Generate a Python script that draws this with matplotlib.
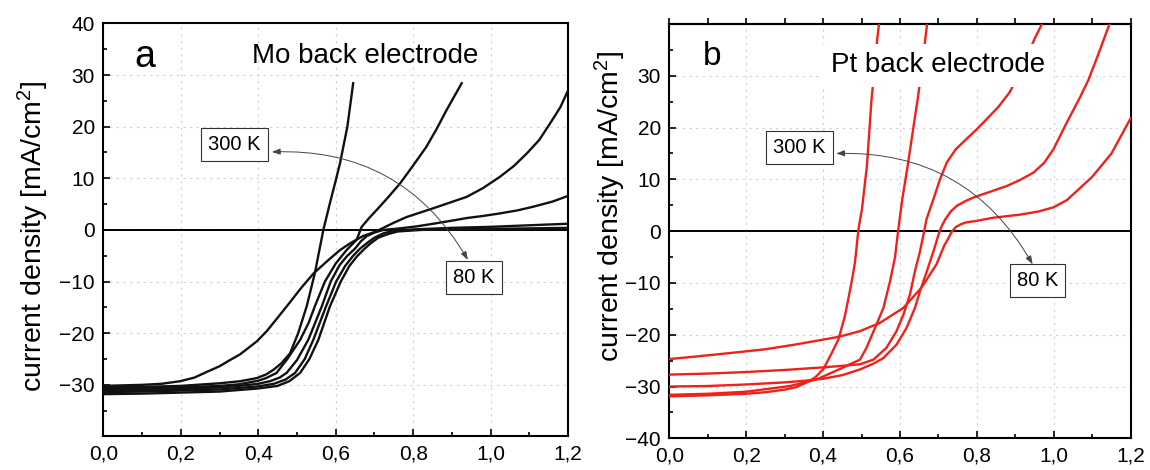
import numpy as np
import matplotlib.pyplot as plt
from matplotlib.ticker import MultipleLocator, NullFormatter

plt.rcParams['font.family'] = ['Liberation Sans', 'DejaVu Sans']
plt.rcParams['mathtext.default'] = 'regular'

# J-V curves with Mo back electrode (V, mA/cm2)
mo_v1 = [0.0, 0.10, 0.20, 0.30, 0.353, 0.396, 0.420, 0.439, 0.460, 0.482, 0.503, 0.525, 0.546, 0.568, 0.585,
         0.598, 0.611, 0.630, 0.645]
mo_j1 = [-30.5, -30.4, -30.2, -29.7, -29.3, -28.7, -28.0, -27.1, -25.8, -23.9, -20.0, -14.8, -8.4, 0.0, 5.2,
         9.0, 12.9, 20.0, 28.4]

mo_v2 = [0.0, 0.10, 0.20, 0.30, 0.35, 0.40, 0.42, 0.447, 0.475, 0.508, 0.530, 0.546, 0.572, 0.600, 0.628,
         0.654, 0.667, 0.685, 0.706, 0.735, 0.766, 0.800, 0.834, 0.860, 0.886, 0.925]
mo_j2 = [-30.8, -30.7, -30.5, -30.2, -29.9, -29.2, -28.7, -27.7, -25.0, -21.3, -18.0, -14.8, -10.0, -6.5, -3.9,
         -1.9, 0.6, 2.2, 3.9, 6.3, 9.0, 12.5, 16.1, 19.5, 23.2, 28.4]

mo_v3 = [0.0, 0.10, 0.15, 0.198, 0.235, 0.267, 0.300, 0.327, 0.353, 0.396, 0.422, 0.450, 0.482, 0.510, 0.543,
         0.580, 0.611, 0.637, 0.670, 0.700, 0.720, 0.750, 0.783, 0.852, 0.938, 0.980, 1.024, 1.060, 1.093,
         1.125, 1.153, 1.180, 1.200]
mo_j3 = [-30.2, -30.0, -29.8, -29.3, -28.6, -27.5, -26.4, -25.2, -24.1, -21.6, -19.6, -17.0, -14.0, -11.3, -8.4,
         -5.9, -3.9, -2.6, -1.2, -0.4, 0.3, 1.4, 2.5, 4.2, 6.4, 8.1, 10.3, 12.4, 14.8,
         17.4, 20.6, 23.8, 27.1]

mo_v4 = [0.0, 0.10, 0.20, 0.30, 0.35, 0.40, 0.43, 0.455, 0.473, 0.50, 0.529, 0.564, 0.587, 0.610, 0.630,
         0.650, 0.665, 0.680, 0.700, 0.723, 0.766, 0.810, 0.852, 0.900, 0.938, 0.980, 1.024, 1.070, 1.110,
         1.160, 1.200]
mo_j4 = [-31.1, -31.0, -30.8, -30.5, -30.2, -29.8, -29.3, -28.6, -27.7, -25.2, -21.3, -14.8, -10.0, -6.8, -5.0,
         -3.6, -2.2, -1.2, -0.5, 0.0, 0.3, 0.7, 1.2, 1.8, 2.3, 2.7, 3.2, 3.8, 4.5,
         5.5, 6.6]

mo_v5 = [0.0, 0.10, 0.20, 0.30, 0.35, 0.40, 0.44, 0.47, 0.495, 0.520, 0.542, 0.575, 0.601, 0.625, 0.645,
         0.663, 0.685, 0.70, 0.725, 0.75, 0.80, 0.90, 1.00, 1.10, 1.20]
mo_j5 = [-31.4, -31.3, -31.1, -30.9, -30.6, -30.3, -29.8, -29.0, -27.7, -25.0, -21.3, -14.8, -10.0, -6.9, -5.0,
         -3.6, -2.3, -1.5, -0.6, -0.2, 0.1, 0.4, 0.6, 0.9, 1.2]

mo_v6 = [0.0, 0.10, 0.20, 0.30, 0.35, 0.40, 0.45, 0.48, 0.508, 0.532, 0.555, 0.585, 0.613, 0.635, 0.655,
         0.675, 0.69, 0.71, 0.735, 0.76, 0.82, 0.90, 1.00, 1.10, 1.20]
mo_j6 = [-31.8, -31.7, -31.5, -31.3, -31.0, -30.7, -30.2, -29.3, -27.7, -25.0, -21.3, -14.8, -10.0, -7.0, -5.1,
         -3.6, -2.6, -1.5, -0.8, -0.3, 0.0, 0.1, 0.2, 0.3, 0.4]

# J-V curves with Pt back electrode
pt_v1 = [0.0, 0.10, 0.20, 0.25, 0.30, 0.33, 0.358, 0.380, 0.401, 0.422, 0.440, 0.457, 0.474, 0.483, 0.492,
         0.501, 0.514, 0.526, 0.534, 0.541, 0.547]
pt_j1 = [-31.9, -31.7, -31.4, -31.1, -30.6, -30.1, -29.2, -28.2, -26.6, -23.6, -20.9, -16.3, -9.9, -6.0, 0.4,
         4.2, 12.6, 25.5, 31.5, 37.2, 41.0]

pt_v2 = [0.0, 0.10, 0.20, 0.314, 0.384, 0.444, 0.496, 0.513, 0.539, 0.557, 0.574, 0.587, 0.595, 0.606, 0.620,
         0.633, 0.646, 0.657, 0.666, 0.672]
pt_j2 = [-31.6, -31.4, -31.0, -29.9, -28.6, -26.6, -24.8, -22.5, -18.0, -14.8, -9.7, -5.1, 0.0, 6.2, 12.6,
         19.1, 25.5, 31.5, 37.2, 41.0]

pt_v3 = [0.0, 0.10, 0.20, 0.30, 0.40, 0.45, 0.496, 0.531, 0.565, 0.591, 0.609, 0.626, 0.639, 0.652, 0.663,
         0.669, 0.687, 0.704, 0.722, 0.745, 0.773, 0.800, 0.825, 0.856, 0.886, 0.920, 0.951, 0.968, 0.976]
pt_j3 = [-27.7, -27.5, -27.2, -26.8, -26.3, -26.0, -25.7, -24.8, -22.5, -19.3, -16.1, -12.2, -7.7, -3.9, 0.0,
         2.3, 6.2, 10.0, 13.3, 15.8, 17.8, 19.7, 21.6, 24.0, 26.9, 32.0, 37.3, 39.8, 41.0]

pt_v4 = [0.0, 0.10, 0.20, 0.30, 0.35, 0.40, 0.45, 0.496, 0.530, 0.557, 0.591, 0.617, 0.639, 0.652, 0.670,
         0.687, 0.703, 0.710, 0.718, 0.732, 0.748, 0.770, 0.791, 0.830, 0.877, 0.910, 0.947, 0.975, 0.999,
         1.034, 1.068, 1.090, 1.115, 1.143, 1.150]
pt_j4 = [-30.0, -29.9, -29.6, -29.2, -28.9, -28.5, -27.8, -26.7, -25.6, -24.5, -21.9, -18.7, -14.8, -11.6, -7.7,
         -3.9, 0.0, 1.2, 2.3, 3.8, 4.9, 5.8, 6.5, 7.5, 8.7, 9.8, 11.3, 13.2, 15.8,
         21.0, 25.8, 29.2, 34.0, 39.6, 41.0]

pt_v5 = [0.0, 0.07, 0.136, 0.20, 0.25, 0.327, 0.441, 0.496, 0.548, 0.609, 0.656, 0.695, 0.715, 0.725, 0.734,
         0.745, 0.760, 0.773, 0.80, 0.843, 0.913, 0.96, 0.999, 1.034, 1.068, 1.10, 1.15, 1.20]
pt_j5 = [-24.7, -24.2, -23.7, -23.2, -22.8, -21.9, -20.4, -19.3, -17.7, -14.8, -10.9, -6.4, -2.8, -1.5, -0.2,
         0.8, 1.4, 1.7, 2.0, 2.6, 3.2, 3.8, 4.6, 6.0, 8.3, 10.5, 15.0, 21.8]

mo_curves = [(mo_v1, mo_j1), (mo_v2, mo_j2), (mo_v3, mo_j3), (mo_v4, mo_j4), (mo_v5, mo_j5), (mo_v6, mo_j6)]
pt_curves = [(pt_v1, pt_j1), (pt_v2, pt_j2), (pt_v3, pt_j3), (pt_v4, pt_j4), (pt_v5, pt_j5)]

x_ticks = [0.0, 0.2, 0.4, 0.6, 0.8, 1.0, 1.2]
x_tick_labels = ['0,0', '0,2', '0,4', '0,6', '0,8', '1,0', '1,2']
mo_y_ticks = [40, 30, 20, 10, 0, -10, -20, -30]
pt_y_ticks = [30, 20, 10, 0, -10, -20, -30, -40]


def setup_axes(ax, yticks, label_pos):
    ax.set_xlim(0, 1.2)
    ax.set_ylim(-40, 40)
    ax.set_xticks(x_ticks)
    ax.set_xticklabels(x_tick_labels)
    ax.set_yticks(yticks)
    ax.xaxis.set_minor_locator(MultipleLocator(0.1))
    ax.yaxis.set_minor_locator(MultipleLocator(5))
    ax.tick_params(which='both', direction='in', labelsize=15, width=1.2)
    ax.tick_params(which='major', length=5, pad=6)
    ax.tick_params(which='minor', length=3)
    ax.grid(True, color='#d0d0d0', linestyle=(0, (2, 4)), linewidth=0.8)
    ax.axhline(0, color='black', lw=1.4, zorder=2.6)
    for s in ax.spines.values():
        s.set_linewidth(1.5)
    ax.set_ylabel('current density [mA/cm$^2$]', fontsize=20.5, va='center')
    ax.yaxis.set_label_coords(*label_pos)


box = dict(boxstyle='square,pad=0.35', fc='white', ec='#333333', lw=0.8)
arrow = dict(arrowstyle='<|-|>,head_length=0.5,head_width=0.18', connectionstyle='arc3,rad=-0.3',
             color='#444444', lw=0.7, shrinkA=0, shrinkB=0)

fig = plt.figure(figsize=(11.5, 4.7), dpi=100)
ax1 = fig.add_axes([0.0898, 0.0713, 0.4043, 0.879])
ax2 = fig.add_axes([0.582, 0.0674, 0.4012, 0.8815])

# Mo panel
setup_axes(ax1, mo_y_ticks, (-0.151, 0.484))
for v, j in mo_curves:
    ax1.plot(v, j, color='#111111', lw=1.7, solid_joinstyle='round', zorder=3)
ax1.text(0.108, 33.5, 'a', fontsize=27, ha='center', va='center')
ax1.text(0.675, 33.7, 'Mo back electrode', fontsize=20, ha='center', va='center')
ax1.text(0.338, 16.6, '300 K', fontsize=14.5, ha='center', va='center', bbox=box)
ax1.text(0.957, -9.3, '80 K', fontsize=14.5, ha='center', va='center', bbox=box)
ax1.annotate('', xy=(0.941, -5.8), xytext=(0.435, 15.1), arrowprops=arrow)

# Pt panel
setup_axes(ax2, pt_y_ticks, (-0.1285, 0.559))
for v, j in pt_curves:
    ax2.plot(v, j, color='#f0201a', lw=1.7, solid_joinstyle='round', zorder=3)
ax2.text(0.112, 33.7, 'b', fontsize=24, ha='center', va='center')
ax2.text(0.698, 32.0, 'Pt back electrode', fontsize=20, ha='center', va='center', zorder=4,
         bbox=dict(boxstyle='square,pad=0.3', fc='white', ec='none'))
ax2.text(0.339, 16.1, '300 K', fontsize=14.5, ha='center', va='center', bbox=box)
ax2.text(0.957, -9.5, '80 K', fontsize=14.5, ha='center', va='center', bbox=box)
ax2.annotate('', xy=(0.945, -6.4), xytext=(0.434, 15.0), arrowprops=arrow)

top = ax2.secondary_xaxis('top')
top.set_xticks(np.arange(0, 1.21, 0.1))
top.xaxis.set_major_formatter(NullFormatter())
top.tick_params(direction='out', length=4, width=1.2)
top.spines['top'].set_linewidth(1.5)

fig.savefig('out.png', dpi=100)
